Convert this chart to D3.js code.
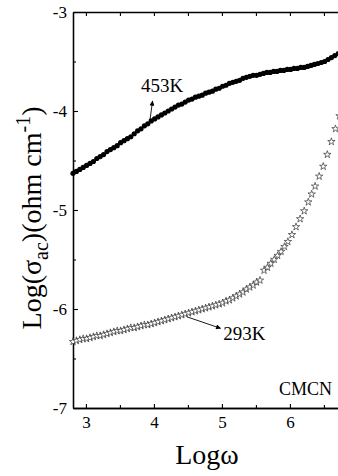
<!DOCTYPE html>
<html>
<head>
<meta charset="utf-8">
<script src="https://cdn.jsdelivr.net/npm/d3@7"></script>
<style>
  html, body { margin: 0; padding: 0; background: #fff; }
  svg { display: block; }
</style>
</head>
<body>
<div id="chart"></div>
<script>
// ---- data ----
const logw453 = [2.81,2.86,2.91,2.96,3.01,3.06,3.11,3.16,3.21,3.26,3.31,3.36,3.41,3.46,3.51,3.56,3.61,3.66,3.71,3.76,3.81,3.86,3.91,3.96,4.01,4.06,4.11,4.16,4.21,4.26,4.31,4.36,4.41,4.46,4.51,4.56,4.61,4.66,4.71,4.76,4.81,4.86,4.91,4.96,5.01,5.06,5.11,5.16,5.21,5.26,5.31,5.36,5.41,5.46,5.51,5.56,5.61,5.66,5.71,5.76,5.81,5.86,5.91,5.96,6.01,6.06,6.11,6.16,6.21,6.26,6.31,6.36,6.41,6.46,6.51,6.56,6.61,6.66,6.71,6.76];
const sigma453 = [-4.63,-4.61,-4.59,-4.57,-4.55,-4.53,-4.51,-4.48,-4.46,-4.44,-4.41,-4.39,-4.37,-4.35,-4.32,-4.30,-4.28,-4.26,-4.23,-4.20,-4.18,-4.15,-4.13,-4.10,-4.08,-4.06,-4.04,-4.02,-4.00,-3.98,-3.96,-3.94,-3.93,-3.91,-3.89,-3.88,-3.86,-3.85,-3.84,-3.82,-3.81,-3.80,-3.78,-3.77,-3.75,-3.74,-3.72,-3.71,-3.70,-3.69,-3.67,-3.66,-3.65,-3.64,-3.64,-3.63,-3.62,-3.61,-3.61,-3.60,-3.60,-3.59,-3.59,-3.58,-3.58,-3.57,-3.57,-3.56,-3.56,-3.55,-3.54,-3.53,-3.52,-3.51,-3.50,-3.48,-3.46,-3.44,-3.42,-3.40];

const logw293 = [2.81,2.86,2.91,2.96,3.01,3.06,3.11,3.16,3.21,3.26,3.31,3.36,3.41,3.46,3.51,3.56,3.61,3.66,3.71,3.76,3.81,3.86,3.91,3.96,4.01,4.06,4.11,4.16,4.21,4.26,4.31,4.36,4.41,4.46,4.51,4.56,4.61,4.66,4.71,4.76,4.81,4.86,4.91,4.96,5.01,5.06,5.11,5.16,5.21,5.26,5.31,5.36,5.41,5.46,5.51,5.56,5.62,5.67,5.72,5.77,5.82,5.87,5.92,5.97,6.03,6.09,6.15,6.21,6.27,6.32,6.37,6.43,6.49,6.55,6.61,6.67,6.73];
const sigma293 = [-6.33,-6.32,-6.31,-6.30,-6.30,-6.29,-6.28,-6.27,-6.27,-6.26,-6.25,-6.24,-6.23,-6.22,-6.22,-6.21,-6.20,-6.19,-6.19,-6.18,-6.17,-6.16,-6.16,-6.15,-6.14,-6.13,-6.12,-6.11,-6.10,-6.09,-6.08,-6.07,-6.06,-6.05,-6.04,-6.03,-6.02,-6.01,-6.00,-5.99,-5.98,-5.97,-5.96,-5.95,-5.94,-5.92,-5.91,-5.89,-5.87,-5.85,-5.83,-5.80,-5.78,-5.76,-5.73,-5.71,-5.61,-5.58,-5.54,-5.50,-5.46,-5.42,-5.37,-5.32,-5.25,-5.17,-5.09,-5.01,-4.92,-4.84,-4.76,-4.66,-4.56,-4.44,-4.31,-4.18,-4.05];

const xMajorTicks = [3, 4, 5, 6];
const xMinorTicks = [3.5, 4.5, 5.5, 6.5];
const yMajorTicks = [-3, -4, -5, -6, -7];
const yMinorTicks = [-3.5, -4.5, -5.5, -6.5];
const xDomain = [2.81, 6.81];
const yDomain = [-7, -3];

// ---- pick an installed serif face (Times-like) ----
function pickSerif() {
  const cands = ["Liberation Serif", "Tinos", "Times New Roman", "Nimbus Roman", "Nimbus Roman No9 L", "FreeSerif", "DejaVu Serif", "Noto Serif", "Bitstream Vera Serif"];
  const c = document.createElement("canvas").getContext("2d");
  const s = "Logω453K CMCN mmmwwwiiilll";
  const base = {};
  for (const b of ["monospace", "sans-serif"]) { c.font = `40px ${b}`; base[b] = c.measureText(s).width; }
  for (const f of cands) {
    let diff = false;
    for (const b of ["monospace", "sans-serif"]) {
      c.font = `40px "${f}", ${b}`;
      if (Math.abs(c.measureText(s).width - base[b]) > 0.5) diff = true;
    }
    if (diff) return `"${f}", serif`;
  }
  return "serif";
}
const FONT = pickSerif();

// ---- layout ----
const W = 338, H = 476;
const mLeft = 73, mRight = 345, mTop = 12, mBottom = 408;

const svg = d3.select("#chart").append("svg").attr("width", W).attr("height", H)
  .style("font-family", FONT);

const x = d3.scaleLinear().domain(xDomain).range([mLeft, mRight]);
const y = d3.scaleLinear().domain(yDomain).range([mBottom, mTop]);

function styleAxis(g) {
  g.attr("font-family", null);
  g.selectAll("path.domain").attr("stroke", "#000").attr("stroke-width", 1.3);
  g.selectAll(".tick line").attr("stroke", "#000").attr("stroke-width", 1.1);
  g.selectAll(".tick text").style("font-family", FONT).attr("font-size", 17).attr("fill", "#000");
}

// bottom axis
svg.append("g").attr("transform", `translate(0,${mBottom})`)
  .call(d3.axisBottom(x).tickValues(xMajorTicks).tickSize(-4).tickSizeOuter(0).tickPadding(8).tickFormat(d => String(d)))
  .call(styleAxis);
svg.append("g").attr("transform", `translate(0,${mBottom})`)
  .call(d3.axisBottom(x).tickValues(xMinorTicks).tickSize(-3).tickSizeOuter(0).tickFormat(""))
  .call(styleAxis);
// top axis
svg.append("g").attr("transform", `translate(0,${mTop})`)
  .call(d3.axisTop(x).tickValues(xMajorTicks.concat(xMinorTicks)).tickSize(-4).tickSizeOuter(0).tickFormat(""))
  .call(styleAxis);
// left axis
svg.append("g").attr("transform", `translate(${mLeft},0)`)
  .call(d3.axisLeft(y).tickValues(yMajorTicks).tickSize(-5).tickSizeOuter(0).tickPadding(6).tickFormat(d => String(d)))
  .call(styleAxis);
svg.append("g").attr("transform", `translate(${mLeft},0)`)
  .call(d3.axisLeft(y).tickValues(yMinorTicks).tickSize(-3).tickSizeOuter(0).tickFormat(""))
  .call(styleAxis);

// ---- series ----
const d453 = logw453.map((v, i) => [v, sigma453[i]]);
const d293 = logw293.map((v, i) => [v, sigma293[i]]);

svg.append("g").selectAll("circle").data(d453).join("circle")
  .attr("cx", d => x(d[0])).attr("cy", d => y(d[1])).attr("r", 2.6)
  .attr("fill", "#000");

const star = d3.symbol().type(d3.symbolStar).size(17);
svg.append("g").selectAll("path").data(d293).join("path")
  .attr("transform", d => `translate(${x(d[0])},${y(d[1])})`)
  .attr("d", star)
  .attr("fill", "#fff").attr("stroke", "#333").attr("stroke-width", 0.7);

// ---- annotations ----
const defs = svg.append("defs");
defs.append("marker").attr("id", "ah").attr("viewBox", "0 0 10 10")
  .attr("refX", 9).attr("refY", 5).attr("markerWidth", 6).attr("markerHeight", 5)
  .attr("orient", "auto").attr("markerUnits", "userSpaceOnUse")
  .append("path").attr("d", "M0,0 L10,5 L0,10 Z").attr("fill", "#000");

svg.append("line")
  .attr("x1", x(3.94)).attr("y1", y(-4.10)).attr("x2", x(3.98)).attr("y2", y(-3.90))
  .attr("stroke", "#000").attr("stroke-width", 0.9).attr("marker-end", "url(#ah)");
svg.append("text").attr("x", x(4.12)).attr("y", y(-3.81)).attr("text-anchor", "middle")
  .attr("font-size", 19).text("453K");

svg.append("line")
  .attr("x1", x(4.49)).attr("y1", y(-6.08)).attr("x2", x(4.98)).attr("y2", y(-6.195))
  .attr("stroke", "#000").attr("stroke-width", 0.9).attr("marker-end", "url(#ah)");
svg.append("text").attr("x", x(5.02)).attr("y", y(-6.31)).attr("text-anchor", "start")
  .attr("font-size", 19).text("293K");

svg.append("text").attr("x", x(6.62)).attr("y", y(-6.87)).attr("text-anchor", "end")
  .attr("font-size", 18).text("CMCN");

// axis titles
svg.append("text").attr("x", 207).attr("y", 464).attr("text-anchor", "middle")
  .attr("font-size", 28).text("Logω");

const yt = svg.append("text").attr("transform", "translate(41,218) rotate(-90)")
  .attr("text-anchor", "middle").attr("font-size", 28);
yt.append("tspan").text("Log(σ");
yt.append("tspan").attr("dy", 7).attr("font-size", 20).text("ac");
yt.append("tspan").attr("dy", -7).text(")(ohm cm");
yt.append("tspan").attr("dy", -11).attr("font-size", 20).text("-1");
yt.append("tspan").attr("dy", 11).text(")");
</script>
</body>
</html>
